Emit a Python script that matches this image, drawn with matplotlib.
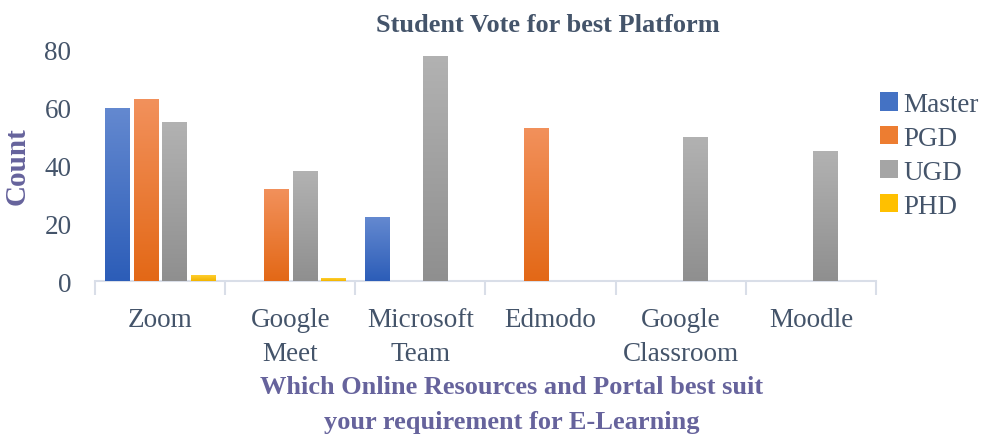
import matplotlib.pyplot as plt
import numpy as np
from matplotlib.colors import LinearSegmentedColormap
from matplotlib.patches import Patch

platforms = ["Zoom", "Google\nMeet", "Microsoft\nTeam", "Edmodo", "Google\nClassroom", "Moodle"]
series = ["Master", "PGD", "UGD", "PHD"]
master = [60, 0, 22, 0, 0, 0]
pgd = [63, 32, 0, 53, 0, 0]
ugd = [55, 38, 78, 0, 50, 45]
phd = [2, 1, 0, 0, 0, 0]

# top colour, bottom colour of each gradient
grads = [("#6489D0", "#2C5DB8"), ("#F2915C", "#E36816"),
         ("#B2B2B2", "#8F8F8F"), ("#FFCE2E", "#F2B400")]
solid = ["#4472C4", "#ED7D31", "#A5A5A5", "#FFC000"]

text_col = "#44546A"
label_col = "#66639C"
plt.rcParams['font.family'] = ['Liberation Serif', 'DejaVu Serif']

fig = plt.figure(figsize=(9.84, 4.39), dpi=100)
ax = fig.add_axes([95 / 984, 1 - 282 / 439, (876 - 95) / 984, (282 - 51) / 439])

x = np.arange(len(platforms))
width = 0.185
step = 0.22
values = [master, pgd, ugd, phd]
grad = np.linspace(0, 1, 256).reshape(-1, 1)
for i, vals in enumerate(values):
    cmap = LinearSegmentedColormap.from_list("g%d" % i, [grads[i][1], grads[i][0]])
    offs = (i - 1.5) * step
    bars = ax.bar(x + offs, vals, width, color=solid[i])
    for b in bars:
        h = b.get_height()
        if h <= 0:
            continue
        x0 = b.get_x()
        im = ax.imshow(grad, cmap=cmap, aspect="auto", origin="lower",
                       extent=(x0, x0 + width, 0, h), zorder=3)
        im.set_clip_path(b)

ax.set_xlim(-0.5, len(platforms) - 0.5)
ax.set_ylim(0, 80)
ax.set_yticks([0, 20, 40, 60, 80])
ax.set_xticks(x)
ax.set_xticklabels(platforms, fontsize=19.5, color=text_col, linespacing=1.45)
ax.set_xticks(np.arange(len(platforms) + 1) - 0.5, minor=True)
ax.tick_params(axis="x", which="major", length=0, pad=19)
ax.tick_params(axis="x", which="minor", length=10, width=1.5, color="#D9DEE8")
ax.tick_params(axis="y", length=0, labelsize=19.5, labelcolor=text_col, pad=17)

for s in ["top", "right", "left"]:
    ax.spines[s].set_visible(False)
ax.spines["bottom"].set_color("#D9DEE8")
ax.spines["bottom"].set_linewidth(1.5)

ax.set_ylabel("Count", fontsize=21, fontweight="bold", color=label_col, labelpad=10)
fig.text(512 / 984, 1 - 405 / 439,
         "Which Online Resources and Portal best suit\nyour requirement for E-Learning",
         ha="center", va="center", fontsize=19, fontweight="bold", color=label_col,
         linespacing=1.7)
fig.text(548 / 984, 1 - 25 / 439, "Student Vote for best Platform", ha="center",
         va="center", fontsize=19, fontweight="bold", color=text_col)

handles = [Patch(facecolor=c) for c in solid]
leg = fig.legend(handles, series, loc="upper left", bbox_to_anchor=(880 / 984, 1 - 93 / 439),
                 frameon=False, fontsize=19.5, handlelength=0.65, handleheight=0.65,
                 handletextpad=0.2, labelspacing=0.33, borderaxespad=0, borderpad=0)
for t in leg.get_texts():
    t.set_color(text_col)

fig.savefig("out.png", dpi=100)
